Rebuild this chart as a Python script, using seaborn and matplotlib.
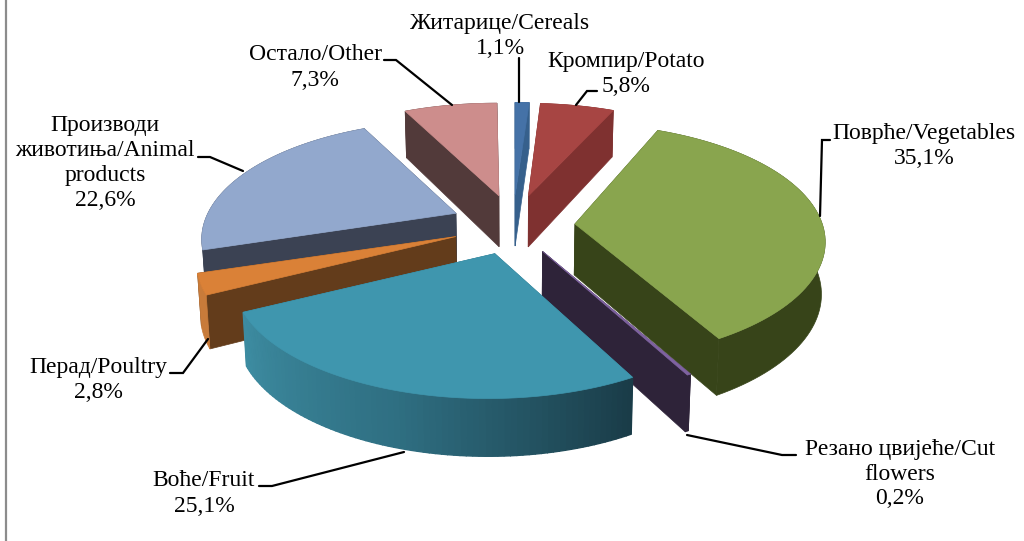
import numpy as np
import seaborn as sns
import matplotlib.pyplot as plt
from matplotlib.patches import Polygon

# Values in clockwise order, starting from the top of the pie
categories = ['Cereals', 'Potato', 'Vegetables', 'Cut flowers', 'Fruit', 'Poultry', 'Animal products', 'Other']
shares = [1.1, 5.8, 35.1, 0.2, 25.1, 2.8, 22.6, 7.3]
share_labels = ['1,1%', '5,8%', '35,1%', '0,2%', '25,1%', '2,8%', '22,6%', '7,3%']
top_colors = ['#4572a7', '#a74543', '#89a54e', '#7f63a1', '#3f96ae', '#da8137', '#92a8cd', '#cd8d8c']
side_colors = ['#36608c', '#7f3130', '#374419', '#2e2339', '#2f6f82', '#633c1b', '#3b4253', '#523a3a']
rim_colors = ['#36608c', '#7f3130', '#374419', '#2e2339', None, '#c87b3a', '#3b4253', '#523a3a']
fruit_rim = ['#3d8ca1', '#2f6f82', '#1a3c48']

# Label text, anchor (centre x, y of each line) and leader line
label_lines = [
    (500, [(24, 'Житарице/Cereals'), (48, '1,1%')], [(519, 58), (519, 102)]),
    (626, [(61, 'Кромпир/Potato'), (87, '5,8%')], [(576, 105), (587, 91), (597, 91)]),
    (924, [(134, 'Поврће/Vegetables'), (159, '35,1%')], [(820, 216), (822, 140), (830, 140)]),
    (900, [(449, 'Резано цвијеће/Cut'), (474, 'flowers'), (499, '0,2%')], [(687, 435), (782, 455), (796, 455)]),
    (204, [(481, 'Воће/Fruit'), (506, '25,1%')], [(404, 452), (272, 486), (259, 486)]),
    (98, [(368, 'Перад/Poultry'), (393, '2,8%')], [(208, 339), (183, 373), (170, 373)]),
    (105, [(125, 'Производи'), (150, 'животиња/Animal'), (176, 'products'), (201, '22,6%')],
     [(243, 171), (210, 157), (198, 157)]),
    (315, [(55, 'Остало/Other'), (81, '7,3%')], [(452, 105), (396, 60), (384, 60)]),
]

# Pie geometry in image pixels
CX, CY = 513, 225
EXPLODE_X, EXPLODE_Y = 62, 30
RX, RY = 248, 113
PERSP = 0.22
DEPTH = 51
# Small per-slice correction of the outer arc, the real chart's perspective is not a clean ellipse
arc_shift = [(0, 0), (-2, 0), (-4, -8), (0, 0), (-7, 0), (-5, 0), (0, 0), (-2, 0)]


def project(theta, apex, shift):
    # Flat pie seen from above, the far side is drawn smaller
    x, y = np.sin(theta), np.cos(theta)
    s = 1 / (1 + PERSP * y)
    return apex[0] + shift[0] + RX * x * s, apex[1] + shift[1] - RY * y * s, s


def drop(px, py, s):
    # Same point on the underside of the slice
    return px - 0.012 * (px - CX), py + DEPTH * np.sqrt(s)


def draw_slice(ax, start, end, top, side, rim, shift):
    mid = (start + end) / 2
    apex = (CX + EXPLODE_X * np.sin(mid), CY - EXPLODE_Y * np.cos(mid))
    thetas = np.linspace(start, end, 80)
    px, py, s = project(thetas, apex, shift)
    bx, by = drop(px, py, s)
    ax_, ay_ = drop(apex[0], apex[1], 1)

    # Radial walls first, outer wall and top surface over them
    for i in (0, -1):
        ax.add_patch(Polygon([apex, (px[i], py[i]), (bx[i], by[i]), (ax_, ay_)],
                             fc=side, ec=side, lw=0.5))
    if rim is None:
        colors = sns.blend_palette(fruit_rim, len(thetas) - 1)
        rank = np.argsort(np.argsort(px[:-1]))
        for i in range(len(thetas) - 1):
            c = colors[rank[i]]
            ax.add_patch(Polygon([(px[i], py[i]), (px[i + 1], py[i + 1]), (bx[i + 1], by[i + 1]), (bx[i], by[i])],
                                 fc=c, ec=c, lw=1.0))
    else:
        ax.add_patch(Polygon(np.r_[np.c_[px, py], np.c_[bx, by][::-1]], fc=rim, ec=rim, lw=0.5))
    ax.add_patch(Polygon(np.r_[[apex], np.c_[px, py]], fc=top, ec=top, lw=0.5))


sns.set_style('white')
plt.rcParams['font.family'] = ['Liberation Serif', 'DejaVu Serif']

fig = plt.figure(figsize=(10.24, 5.41), dpi=100)
ax = fig.add_axes([0, 0, 1, 1])
ax.set_xlim(0, 1024)
ax.set_ylim(541, 0)
ax.set_xticks([])
ax.set_yticks([])

sns.despine(ax=ax, bottom=True)
ax.spines['left'].set_position(('data', 6))
ax.spines['left'].set_color('#8c8c8c')
ax.spines['left'].set_linewidth(1.6)

edges = np.r_[0, np.cumsum(shares)] / sum(shares) * 2 * np.pi

# Back to front
for i in [7, 0, 1, 6, 5, 2, 3, 4]:
    draw_slice(ax, edges[i], edges[i + 1], top_colors[i], side_colors[i], rim_colors[i], arc_shift[i])

for cx, lines, leader in label_lines:
    for y, txt in lines:
        ax.text(cx, y, txt, ha='center', va='center', fontsize=17, color='black')
    ax.plot(*zip(*leader), color='black', lw=1.6, solid_joinstyle='miter')

fig.savefig('out.png', dpi=100)
